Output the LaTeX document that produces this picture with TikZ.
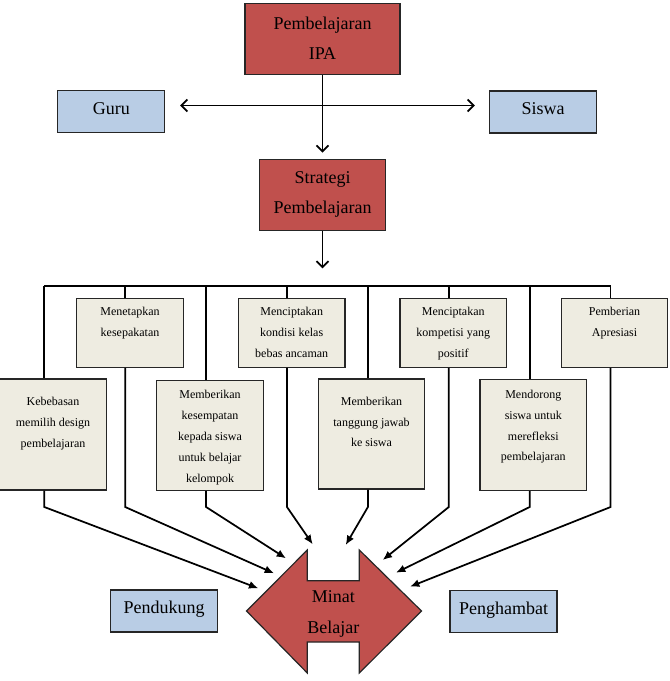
\documentclass[tikz,border=0pt]{standalone}
\usepackage{fontspec}
\setmainfont{Liberation Serif}
\usetikzlibrary{arrows.meta}
\definecolor{merah}{HTML}{C0504D}
\definecolor{birumuda}{HTML}{B9CDE5}
\definecolor{krem}{HTML}{EEECE1}
\definecolor{garis}{HTML}{262626}
% texto arriba en las cajas pequenas: alto, espacio, texto
\newcommand{\isi}[3]{\parbox[c][#1][t]{80pt}{\centering\vspace*{#2}#3}}

\begin{document}
\begin{tikzpicture}[x=0.75pt,y=-0.75pt,
    kotak/.style={draw=garis, line width=0.9pt, inner sep=0pt},
    kotakmerah/.style={kotak, fill=merah, align=center, font=\fontsize{13.5}{22.5}\selectfont},
    kotakbiru/.style={kotak, fill=birumuda, minimum width=80.25pt, minimum height=31.5pt,
      text height=9.5pt, text depth=5.5pt, font=\fontsize{13.5}{22.5}\selectfont},
    kotakkrem/.style={kotak, fill=krem, font=\fontsize{9}{15.6}\selectfont},
    garisan/.style={draw=black, line width=1.3pt},
    panahbuka/.style={garisan, -{Straight Barb[length=4.5pt,width=9pt]}},
    panah/.style={garisan, -{Latex[length=7pt,width=6pt]}}]
  \useasboundingbox (0,0) rectangle (670,681);

  % Cajas de arriba
  \node[kotakmerah, minimum width=116.25pt, minimum height=53.25pt] (ipa) at (322.5,38.7) {Pembelajaran\\IPA};
  \node[kotakbiru] (guru) at (111.3,111.7) {Guru};
  \node[kotakbiru] (siswa) at (543,112) {Siswa};
  \node[kotakmerah, minimum width=95pt, minimum height=53.25pt] (strategi) at (322.5,194.7) {Strategi\\Pembelajaran};

  % Flechas de arriba
  \coordinate (hl) at (322.5,105.5);
  \draw[garisan, {Straight Barb[length=4.5pt,width=9pt]}-{Straight Barb[length=4.5pt,width=9pt]},
    shorten <=11pt, shorten >=10.5pt] (guru.east |- hl) -- (siswa.west |- hl);
  \draw[panahbuka, shorten >=4.5pt] (ipa.south) -- (strategi.north);
  \coordinate (bus) at (322.5,285.7);
  \draw[panahbuka, shorten >=13pt] (strategi.south) -- (bus);

  % Cajas de estrategia, fila de arriba
  \node[kotakkrem] (sepakat) at (130,332.8) {\isi{51.75pt}{7pt}{Menetapkan\\kesepakatan}};
  \node[kotakkrem] (kondisi) at (291.7,332.8) {\isi{51.75pt}{7pt}{Menciptakan\\kondisi kelas\\bebas ancaman}};
  \node[kotakkrem] (kompetisi) at (453.3,332.8) {\isi{51.75pt}{7pt}{Menciptakan\\kompetisi yang\\positif}};
  \node[kotakkrem] (apresiasi) at (614.5,332.8) {\isi{51.75pt}{7pt}{Pemberian\\Apresiasi}};

  % Cajas de estrategia, fila de abajo
  \node[kotakkrem] (bebas) at (53,434.5) {\isi{83.25pt}{14pt}{Kebebasan\\memilih design\\pembelajaran}};
  \node[kotakkrem] (kelompok) at (210,435.5) {\isi{82.5pt}{7.5pt}{Memberikan\\kesempatan\\kepada siswa\\untuk belajar\\kelompok}};
  \node[kotakkrem] (tanggung) at (371.5,434) {\isi{82.5pt}{13.5pt}{Memberikan\\tanggung jawab\\ke siswa}};
  \node[kotakkrem] (refleksi) at (533.3,435) {\isi{83.25pt}{8pt}{Mendorong\\siswa untuk\\merefleksi\\pembelajaran}};

  % Linea comun
  \coordinate (b1) at (44.3,285.7);
  \coordinate (b2) at (125.2,285.7);
  \coordinate (b3) at (206.1,285.7);
  \coordinate (b4) at (287,285.7);
  \coordinate (b5) at (367.9,285.7);
  \coordinate (b6) at (448.8,285.7);
  \coordinate (b7) at (529.7,285.7);
  \coordinate (b8) at (610.6,285.7);
  \draw[garisan] (b1) -- (b8);
  \draw[garisan] (b1) -- (b1 |- bebas.north);
  \draw[garisan] (b2) -- (b2 |- sepakat.north);
  \draw[garisan] (b3) -- (b3 |- kelompok.north);
  \draw[garisan] (b4) -- (b4 |- kondisi.north);
  \draw[garisan] (b5) -- (b5 |- tanggung.north);
  \draw[garisan] (b6) -- (b6 |- kompetisi.north);
  \draw[garisan] (b7) -- (b7 |- refleksi.north);
  \draw[garisan] (b8) -- (b8 |- apresiasi.north);

  % Minat belajar
  \draw[draw=garis, line width=0.9pt, fill=merah] (246.5,611) -- (307.3,550) -- (307.3,580.7) -- (359.3,580.7)
    -- (359.3,550) -- (421.5,611) -- (359.3,673) -- (359.3,642) -- (307.3,642) -- (307.3,673) -- cycle;
  \node[align=center, font=\fontsize{13.5}{23.25}\selectfont] (minat) at (333.3,613.5) {Minat\\Belajar};
  \node[kotakbiru] (dukung) at (164,611) {Pendukung};
  \node[kotakbiru] (hambat) at (503.5,611.5) {Penghambat};

  % Flechas hacia minat belajar
  \coordinate (kink) at (0,507);
  \coordinate (t1) at (258.3,588.3);
  \coordinate (t2) at (274,573.3);
  \coordinate (t3) at (286,558.3);
  \coordinate (t4) at (312.7,544.3);
  \coordinate (t5) at (345.7,545);
  \coordinate (t6) at (382.7,560);
  \coordinate (t7) at (396,572.7);
  \coordinate (t8) at (410,586.7);
  \draw[panah] (b1 |- bebas.south) -- (b1 |- kink) -- (t1);
  \draw[panah] (b2 |- sepakat.south) -- (b2 |- kink) -- (t2);
  \draw[panah] (b3 |- kelompok.south) -- (b3 |- kink) -- (t3);
  \draw[panah] (b4 |- kondisi.south) -- (b4 |- kink) -- (t4);
  \draw[panah] (b5 |- tanggung.south) -- (b5 |- kink) -- (t5);
  \draw[panah] (b6 |- kompetisi.south) -- (b6 |- kink) -- (t6);
  \draw[panah] (b7 |- refleksi.south) -- (b7 |- kink) -- (t7);
  \draw[panah] (b8 |- apresiasi.south) -- (b8 |- kink) -- (t8);
\end{tikzpicture}
\end{document}
